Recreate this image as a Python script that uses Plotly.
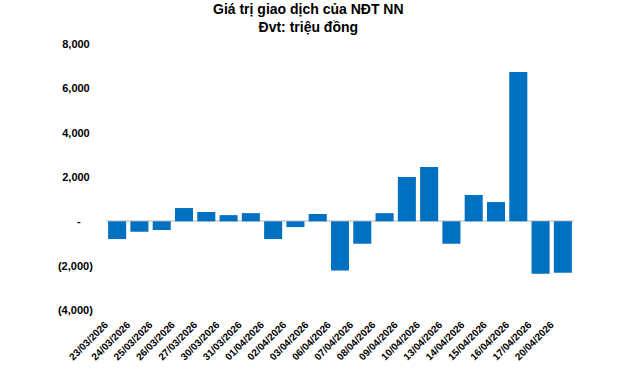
import plotly.graph_objects as go

dates = ["23/03/2026", "24/03/2026", "25/03/2026", "26/03/2026", "27/03/2026",
         "30/03/2026", "31/03/2026", "01/04/2026", "02/04/2026", "03/04/2026",
         "06/04/2026", "07/04/2026", "08/04/2026", "09/04/2026", "10/04/2026",
         "13/04/2026", "14/04/2026", "15/04/2026", "16/04/2026", "17/04/2026",
         "20/04/2026"]
values = [-800, -470, -390, 600, 420, 280, 370, -800, -260, 330,
          -2220, -1010, 370, 2000, 2450, -1010, 1190, 870, 6740, -2360, -2320]

y_tickvals = [-4000, -2000, 0, 2000, 4000, 6000, 8000]
y_ticktext = ["(4,000)", "(2,000)", "-\u00a0\u00a0\u00a0\u00a0", "2,000\u00a0", "4,000\u00a0", "6,000\u00a0", "8,000\u00a0"]

title_lines = ["Giá trị giao dịch của NĐT NN", "Đvt: triệu đồng"]

FONT = "Liberation Sans, Arial, sans-serif"
L, R, T, B = 106, 66, 44, 59
PH = 369 - T - B
PW = 640 - L - R

fig = go.Figure(go.Bar(
    x=dates, y=values, marker_color="#0070C0", marker_line_width=0,
    hoverinfo="skip",
))

title_center_px = 18.5
fig.add_annotation(
    text="<b>" + "<br>".join(title_lines) + "</b>", showarrow=False,
    xref="paper", yref="paper",
    x=(308 - L) / PW, y=(T + PH - title_center_px) / PH,
    xanchor="center", yanchor="middle", align="center",
    font=dict(family=FONT, size=14, color="black"),
)

fig.update_layout(
    width=640, height=369,
    paper_bgcolor="white", plot_bgcolor="white",
    margin=dict(l=L, r=R, t=T, b=B, autoexpand=False),
    bargap=0.19,
    showlegend=False,
    font=dict(family=FONT, size=10, color="black"),
)

fig.update_xaxes(
    type="category", tickangle=-45, showgrid=False, showline=False,
    ticks="", tickfont=dict(family=FONT, size=10, color="black", weight="bold"),
    ticklabelshift=-12, ticklabelstandoff=6,
    automargin=False, zeroline=False,
)
fig.update_yaxes(
    range=[-4000, 8000], tickvals=y_tickvals, ticktext=y_ticktext,
    showgrid=False, zeroline=True, zerolinecolor="#D9D9D9", zerolinewidth=2,
    showline=False, ticks="outside", tickcolor="rgba(0,0,0,0)", ticklen=10,
    tickfont=dict(family=FONT, size=11, color="black", weight="bold"),
    automargin=False,
)

fig.write_html(
    "out.html",
    config={"displayModeBar": False},
    post_script="document.body.style.margin='0';document.body.style.overflow='hidden';",
)
